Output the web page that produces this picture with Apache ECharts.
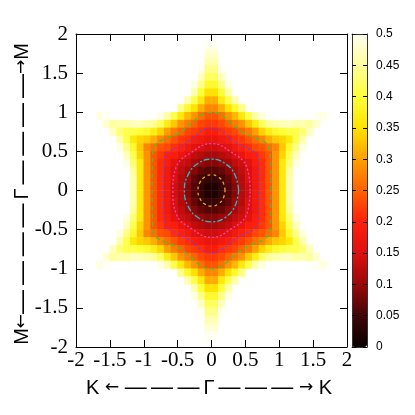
<!DOCTYPE html>
<html><head><meta charset="utf-8">
<script src="https://cdn.jsdelivr.net/npm/echarts/dist/echarts.min.js"></script>
<style>html,body{margin:0;padding:0;background:#fff}#c{width:415px;height:415px}</style>
</head><body><div id="c"></div>
<script>
const _ = null;
// cell centres (data units)
const xCenters = [-1.95,-1.85,-1.75,-1.65,-1.55,-1.45,-1.35,-1.25,-1.15,-1.05,-0.95,-0.85,-0.75,-0.65,-0.55,-0.45,-0.35,-0.25,-0.15,-0.05,0.05,0.15,0.25,0.35,0.45,0.55,0.65,0.75,0.85,0.95,1.05,1.15,1.25,1.35,1.45,1.55,1.65,1.75,1.85,1.95];
const yCenters = [-1.95,-1.85,-1.75,-1.65,-1.55,-1.45,-1.35,-1.25,-1.15,-1.05,-0.95,-0.85,-0.75,-0.65,-0.55,-0.45,-0.35,-0.25,-0.15,-0.05,0.05,0.15,0.25,0.35,0.45,0.55,0.65,0.75,0.85,0.95,1.05,1.15,1.25,1.35,1.45,1.55,1.65,1.75,1.85,1.95];
// values in hundredths, rows listed from top (y=1.95) to bottom (y=-1.95); _ = above 0.5 (blank)
const zRows = [
[_,_,_,_,_,_,_,_,_,_,  _,_,_,_,_,_,_,_,_,_,  _,_,_,_,_,_,_,_,_,_,  _,_,_,_,_,_,_,_,_,_],
[_,_,_,_,_,_,_,_,_,_,  _,_,_,_,_,_,_,_,_,50,  50,_,_,_,_,_,_,_,_,_,  _,_,_,_,_,_,_,_,_,_],
[_,_,_,_,_,_,_,_,_,_,  _,_,_,_,_,_,_,_,_,48,  48,_,_,_,_,_,_,_,_,_,  _,_,_,_,_,_,_,_,_,_],
[_,_,_,_,_,_,_,_,_,_,  _,_,_,_,_,_,_,_,_,46,  46,_,_,_,_,_,_,_,_,_,  _,_,_,_,_,_,_,_,_,_],
[_,_,_,_,_,_,_,_,_,_,  _,_,_,_,_,_,_,_,50,44,  44,50,_,_,_,_,_,_,_,_,  _,_,_,_,_,_,_,_,_,_],
[_,_,_,_,_,_,_,_,_,_,  _,_,_,_,_,_,_,_,47,42,  42,47,_,_,_,_,_,_,_,_,  _,_,_,_,_,_,_,_,_,_],
[_,_,_,_,_,_,_,_,_,_,  _,_,_,_,_,_,_,49,44,39,  39,44,49,_,_,_,_,_,_,_,  _,_,_,_,_,_,_,_,_,_],
[_,_,_,_,_,_,_,_,_,_,  _,_,_,_,_,_,_,46,40,35,  35,40,46,_,_,_,_,_,_,_,  _,_,_,_,_,_,_,_,_,_],
[_,_,_,_,_,_,_,_,_,_,  _,_,_,_,_,_,46,41,36,31,  31,36,41,46,_,_,_,_,_,_,  _,_,_,_,_,_,_,_,_,_],
[_,_,_,_,_,_,_,_,_,_,  _,_,_,_,_,44,39,35,31,28,  28,31,35,39,44,_,_,_,_,_,  _,_,_,_,_,_,_,_,_,_],
[_,_,_,49,50,_,_,_,_,_,  _,_,49,46,41,36,32,29,26,24,  24,26,29,32,36,41,46,49,_,_,  _,_,_,_,_,50,49,_,_,_],
[_,_,_,_,48,45,46,46,47,47,  46,45,42,37,33,29,27,25,23,22,  22,23,25,27,29,33,37,42,45,46,  47,47,46,46,45,48,_,_,_,_],
[_,_,_,_,_,47,43,41,41,40,  39,37,34,30,27,25,23,22,21,19,  19,21,22,23,25,27,30,34,37,39,  40,41,41,43,47,_,_,_,_,_],
[_,_,_,_,_,_,46,41,36,34,  33,31,28,26,24,22,21,19,18,17,  17,18,19,21,22,24,26,28,31,33,  34,36,41,46,_,_,_,_,_,_],
[_,_,_,_,_,_,49,44,39,33,  28,26,24,23,21,20,18,16,15,14,  14,15,16,18,20,21,23,24,26,28,  33,39,44,49,_,_,_,_,_,_],
[_,_,_,_,_,_,_,47,41,34,  29,24,22,20,19,17,15,13,12,11,  11,12,13,15,17,19,20,22,24,29,  34,41,47,_,_,_,_,_,_,_],
[_,_,_,_,_,_,_,49,43,36,  29,24,21,19,16,14,13,11,10,9,  9,10,11,13,14,16,19,21,24,29,  36,43,49,_,_,_,_,_,_,_],
[_,_,_,_,_,_,_,_,45,36,  29,24,21,18,15,13,11,9,7,6,  6,7,9,11,13,15,18,21,24,29,  36,45,_,_,_,_,_,_,_,_],
[_,_,_,_,_,_,_,_,46,36,  29,24,21,18,15,12,10,7,5,4,  4,5,7,10,12,15,18,21,24,29,  36,46,_,_,_,_,_,_,_,_],
[_,_,_,_,_,_,_,_,46,36,  29,24,21,18,14,12,9,6,4,2,  2,4,6,9,12,14,18,21,24,29,  36,46,_,_,_,_,_,_,_,_],
[_,_,_,_,_,_,_,_,46,36,  29,24,21,18,14,12,9,6,4,2,  2,4,6,9,12,14,18,21,24,29,  36,46,_,_,_,_,_,_,_,_],
[_,_,_,_,_,_,_,_,46,36,  29,24,21,18,15,12,10,7,5,4,  4,5,7,10,12,15,18,21,24,29,  36,46,_,_,_,_,_,_,_,_],
[_,_,_,_,_,_,_,_,45,36,  29,24,21,18,15,13,11,9,7,6,  6,7,9,11,13,15,18,21,24,29,  36,45,_,_,_,_,_,_,_,_],
[_,_,_,_,_,_,_,49,43,36,  29,24,21,19,16,14,13,11,10,9,  9,10,11,13,14,16,19,21,24,29,  36,43,49,_,_,_,_,_,_,_],
[_,_,_,_,_,_,_,47,41,34,  29,24,22,20,19,17,15,13,12,11,  11,12,13,15,17,19,20,22,24,29,  34,41,47,_,_,_,_,_,_,_],
[_,_,_,_,_,_,49,44,39,33,  28,26,24,23,21,20,18,16,15,14,  14,15,16,18,20,21,23,24,26,28,  33,39,44,49,_,_,_,_,_,_],
[_,_,_,_,_,_,46,41,36,34,  33,31,28,26,24,22,21,19,18,17,  17,18,19,21,22,24,26,28,31,33,  34,36,41,46,_,_,_,_,_,_],
[_,_,_,_,_,47,43,41,41,40,  39,37,34,30,27,25,23,22,21,19,  19,21,22,23,25,27,30,34,37,39,  40,41,41,43,47,_,_,_,_,_],
[_,_,_,_,48,45,46,46,47,47,  46,45,42,37,33,29,27,25,23,22,  22,23,25,27,29,33,37,42,45,46,  47,47,46,46,45,48,_,_,_,_],
[_,_,_,49,50,_,_,_,_,_,  _,_,49,46,41,36,32,29,26,24,  24,26,29,32,36,41,46,49,_,_,  _,_,_,_,_,50,49,_,_,_],
[_,_,_,_,_,_,_,_,_,_,  _,_,_,_,_,44,39,35,31,28,  28,31,35,39,44,_,_,_,_,_,  _,_,_,_,_,_,_,_,_,_],
[_,_,_,_,_,_,_,_,_,_,  _,_,_,_,_,_,46,41,36,31,  31,36,41,46,_,_,_,_,_,_,  _,_,_,_,_,_,_,_,_,_],
[_,_,_,_,_,_,_,_,_,_,  _,_,_,_,_,_,_,46,40,35,  35,40,46,_,_,_,_,_,_,_,  _,_,_,_,_,_,_,_,_,_],
[_,_,_,_,_,_,_,_,_,_,  _,_,_,_,_,_,_,49,44,39,  39,44,49,_,_,_,_,_,_,_,  _,_,_,_,_,_,_,_,_,_],
[_,_,_,_,_,_,_,_,_,_,  _,_,_,_,_,_,_,_,47,42,  42,47,_,_,_,_,_,_,_,_,  _,_,_,_,_,_,_,_,_,_],
[_,_,_,_,_,_,_,_,_,_,  _,_,_,_,_,_,_,_,50,44,  44,50,_,_,_,_,_,_,_,_,  _,_,_,_,_,_,_,_,_,_],
[_,_,_,_,_,_,_,_,_,_,  _,_,_,_,_,_,_,_,_,46,  46,_,_,_,_,_,_,_,_,_,  _,_,_,_,_,_,_,_,_,_],
[_,_,_,_,_,_,_,_,_,_,  _,_,_,_,_,_,_,_,_,48,  48,_,_,_,_,_,_,_,_,_,  _,_,_,_,_,_,_,_,_,_],
[_,_,_,_,_,_,_,_,_,_,  _,_,_,_,_,_,_,_,_,50,  50,_,_,_,_,_,_,_,_,_,  _,_,_,_,_,_,_,_,_,_],
[_,_,_,_,_,_,_,_,_,_,  _,_,_,_,_,_,_,_,_,_,  _,_,_,_,_,_,_,_,_,_,  _,_,_,_,_,_,_,_,_,_]
];
// contour lines, [x, y] in data units
const contour005 = [[0.2,0],[0.173,0.1],[0.1,0.173],[0,0.2],[-0.1,0.173],[-0.173,0.1],[-0.2,0],[-0.173,-0.1],[-0.1,-0.173],[0,-0.2],[0.1,-0.173],[0.173,-0.1],[0.2,0]];
const contour010 = [[0.4,0],[0.346,0.2],[0.2,0.346],[0,0.4],[-0.2,0.346],[-0.346,0.2],[-0.4,0],[-0.346,-0.2],[-0.2,-0.346],[0,-0.4],[0.2,-0.346],[0.346,-0.2],[0.4,0]];
const contour015 = [[0.57,0],[0.52,0.3],[0.285,0.494],[0,0.6],[-0.285,0.494],[-0.52,0.3],[-0.57,0],[-0.52,-0.3],[-0.285,-0.494],[0,-0.6],[0.285,-0.494],[0.52,-0.3],[0.57,0]];
const contour020 = [[0.71,0],[0.693,0.4],[0.355,0.615],[0,0.8],[-0.355,0.615],[-0.693,0.4],[-0.71,0],[-0.693,-0.4],[-0.355,-0.615],[0,-0.8],[0.355,-0.615],[0.693,-0.4],[0.71,0]];
const contour025 = [[0.875,0],[0.866,0.5],[0.4375,0.758],[0,1.0],[-0.4375,0.758],[-0.866,0.5],[-0.875,0],[-0.866,-0.5],[-0.4375,-0.758],[0,-1.0],[0.4375,-0.758],[0.866,-0.5],[0.875,0]];
const contourLevels = [0.05, 0.1, 0.15, 0.2, 0.25];
const axisTicks = [-2,-1.5,-1,-0.5,0,0.5,1,1.5,2];
const cbTicks = [0,0.05,0.1,0.15,0.2,0.25,0.3,0.35,0.4,0.45,0.5];
const paletteColors = ['#080000','#420606','#9a0808','#dc1010','#ff200c','#ff6200','#ffa000','#ffe200','#ffff38','#ffff9c','#fffff2'];
const TS = '\u2009';
const xTitle = '{a|K }{r|←}{a| }{d|—' + TS + '—' + TS + '—}{a|' + TS + 'Γ' + TS + '}{d|—' + TS + '—' + TS + '—}{a| }{r|→}{a| K}';
const yTitle = '{a|M}{r|←}{e|—' + TS + '—' + TS + '—' + TS + '—}{a|' + TS + 'Γ' + TS + '}{e|—' + TS + '—' + TS + '—' + TS + '—}{r|→}{a|M}';

const heatData = [];
zRows.forEach((row, k) => {
  const yi = zRows.length - 1 - k;
  row.forEach((v, c) => { if (v !== null) heatData.push([c, yi, v / 100]); });
});

const chart = echarts.init(document.getElementById('c'), null, {renderer: 'canvas', width: 415, height: 415});
const serif = '"Liberation Serif", "Times New Roman", Times, "DejaVu Serif", serif';
const sans = 'Liberation Sans';
const titleRich = {
  a: {fontFamily: sans, fontSize: 20, color: '#000'},
  r: {fontFamily: 'DejaVu Sans', fontSize: 17, color: '#000'},
  d: {fontFamily: sans, fontSize: 22, color: '#000'},
  e: {fontFamily: sans, fontSize: 24, color: '#000'}
};
const frameAxis = (pos, labels) => ({
  type: 'value', gridIndex: 0, min: axisTicks[0], max: axisTicks[axisTicks.length - 1], interval: 0.5, position: pos, z: 10,
  axisLine: {show: true, onZero: false, lineStyle: {color: '#000', width: 1}},
  axisTick: {show: true, inside: true, length: 7, lineStyle: {color: '#000', width: 1}},
  axisLabel: labels ? {show: true, color: '#000', fontFamily: serif, fontSize: 21, margin: pos === 'bottom' ? 3 : 8} : {show: false},
  splitLine: {show: false}
});
const cbAxis = (pos, labels) => ({
  type: 'value', gridIndex: 1, min: cbTicks[0], max: cbTicks[cbTicks.length - 1], interval: 0.05, position: pos, z: 10,
  axisLine: {show: true, onZero: false, lineStyle: {color: '#333', width: 1}},
  axisTick: {show: true, inside: true, length: 4, lineStyle: {color: '#000', width: 1}},
  axisLabel: labels ? {show: true, color: '#000', fontFamily: sans, fontSize: 12, margin: 9} : {show: false},
  splitLine: {show: false}
});
const cbFrameX = (pos) => ({
  type: 'value', gridIndex: 1, min: 0, max: 1, position: pos, z: 10,
  axisLine: {show: true, onZero: false, lineStyle: {color: '#333', width: 1}},
  axisTick: {show: false}, axisLabel: {show: false}, splitLine: {show: false}
});
const contourStyles = [
  {data: contour005, color: '#f0a818', type: [3, 3]},
  {data: contour010, color: '#2fb8c8', type: [6, 2, 2, 2]},
  {data: contour015, color: '#ff40b0', type: [2, 2]},
  {data: contour020, color: '#5a46ff', type: [2, 3]},
  {data: contour025, color: '#4cc030', type: [5, 3]}
];

chart.setOption({
  animation: false,
  backgroundColor: '#fff',
  grid: [
    {left: 76, top: 34, width: 271, height: 313},
    {left: 352, top: 34, width: 15, height: 313}
  ],
  xAxis: [
    {type: 'category', gridIndex: 0, data: xCenters.map(String), show: false},
    frameAxis('bottom', true),
    frameAxis('top', false),
    cbFrameX('bottom'),
    cbFrameX('top')
  ],
  yAxis: [
    {type: 'category', gridIndex: 0, data: yCenters.map(String), show: false},
    frameAxis('left', true),
    frameAxis('right', false),
    cbAxis('right', true),
    cbAxis('left', false)
  ],
  visualMap: {
    type: 'continuous', min: 0, max: 0.5, seriesIndex: 0, dimension: 2,
    show: true, calculable: false, hoverLink: false, orient: 'vertical',
    left: 352, top: 34, itemWidth: 15, itemHeight: 313, padding: 0,
    inRange: {color: paletteColors}
  },
  graphic: [
    {type: 'text', x: 209, y: 388, style: {text: xTitle, rich: titleRich, align: 'center', verticalAlign: 'middle'}},
    {type: 'text', x: 22, y: 194, rotation: Math.PI / 2, style: {text: yTitle, rich: titleRich, align: 'center', verticalAlign: 'middle'}}
  ],
  series: [
    {type: 'heatmap', xAxisIndex: 0, yAxisIndex: 0, data: heatData, emphasis: {disabled: true}, progressive: 0, silent: true}
  ].concat(contourStyles.map((c, i) => ({
    type: 'line', name: String(contourLevels[i]), xAxisIndex: 1, yAxisIndex: 1, data: c.data,
    symbol: 'none', smooth: 0.45, silent: true, z: 5,
    lineStyle: {color: c.color, width: 1.3, type: c.type}
  })))
});
</script></body></html>
